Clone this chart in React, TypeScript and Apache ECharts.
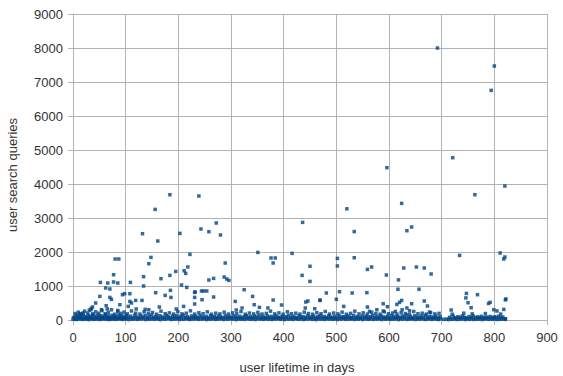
import React, { useEffect, useRef } from "react";
import * as echarts from "echarts";

// x: user lifetime in days, y: user search queries
const xTicks = [0, 100, 200, 300, 400, 500, 600, 700, 800, 900];
const yTicks = [0, 1000, 2000, 3000, 4000, 5000, 6000, 7000, 8000, 9000];

const outliersLate: [number, number][] = [
  [692, 8000], [800, 7470], [794, 6753], [721, 4774], [596, 4480], [820, 3941], [763, 3685],
  [734, 1900], [811, 1970], [820, 1853], [818, 1794], [747, 782], [768, 744], [746, 650],
  [822, 620], [821, 592], [750, 509], [792, 518], [789, 485], [756, 362], [799, 303], [805, 265],
  [718, 294], [818, 312], [821, 40],
];

const outliersMid: [number, number][] = [
  [520, 3270], [624, 3430], [534, 2600], [634, 2626], [643, 2735], [502, 1812], [502, 1590],
  [534, 1832], [559, 1488], [567, 1559], [595, 1323], [628, 1529], [652, 1559], [667, 1529],
  [680, 1353], [618, 1180], [617, 905], [657, 905], [469, 588], [481, 794], [506, 832], [530, 794],
  [558, 803], [500, 610], [514, 400], [589, 479], [597, 391], [559, 382], [563, 253], [577, 303],
  [624, 576], [620, 518], [615, 459], [643, 479], [634, 353], [667, 559], [673, 412], [677, 235],
  [612, 253], [589, 265], [625, 303], [639, 274],
];

const outliersEarlyMid: [number, number][] = [
  [239, 3647], [272, 2853], [243, 2676], [258, 2597], [280, 2500], [436, 2871], [351, 1988],
  [376, 1824], [384, 1824], [380, 1676], [416, 1959], [450, 1580], [289, 1676], [435, 1312],
  [450, 1135], [258, 1176], [267, 1224], [287, 1265], [292, 1206], [296, 1165], [244, 853],
  [248, 853], [254, 853], [231, 812], [231, 665], [245, 597], [267, 676], [325, 891], [341, 694],
  [308, 547], [344, 450], [380, 588], [396, 441], [354, 371], [370, 353], [442, 529], [446, 559],
  [469, 576], [441, 353], [459, 332], [321, 353], [310, 294],
];

const outliersEarly: [number, number][] = [
  [184, 3685], [156, 3253], [132, 2538], [161, 2323], [203, 2547], [222, 1929], [80, 1794],
  [87, 1794], [148, 1841], [144, 1656], [77, 1332], [52, 1106], [66, 1088], [77, 1118], [85, 1088],
  [134, 1274], [109, 1106], [167, 1215], [184, 1312], [195, 1429], [211, 1450], [214, 1371],
  [218, 1559], [134, 1000], [206, 1029], [216, 959], [62, 941], [70, 912], [157, 803], [185, 871],
  [175, 724], [186, 665], [232, 824], [231, 471], [94, 744], [98, 774], [108, 774], [51, 694],
  [70, 665], [73, 606], [43, 500], [89, 450], [108, 547], [119, 576], [111, 500], [131, 576],
  [105, 400], [37, 382], [63, 421], [54, 303], [34, 303], [65, 324], [85, 282], [120, 324],
  [137, 312], [144, 303], [164, 382], [196, 324], [210, 400], [13, 185], [19, 206], [35, 341],
];

const bandLow: [number, number][] = [
  [0, 22], [3, 41], [6, 15], [9, 35], [12, 28], [15, 46], [18, 18], [21, 38], [24, 25], [27, 44],
  [30, 12], [33, 33], [36, 48], [39, 20], [42, 37], [45, 27], [48, 45], [51, 16], [54, 39], [57, 30],
  [60, 50], [63, 21], [66, 42], [69, 14], [72, 36], [75, 26], [78, 47], [81, 19], [84, 40], [87, 31],
  [90, 52], [93, 17], [96, 38], [99, 28], [102, 45], [106, 13], [110, 34], [114, 24], [118, 43],
  [122, 18], [126, 37], [130, 29], [134, 46], [138, 15], [142, 35], [146, 25], [150, 44], [154, 20],
  [158, 39], [162, 30], [166, 12], [170, 41], [174, 23], [178, 36], [182, 47], [186, 17], [190, 32],
  [194, 27], [198, 43], [202, 14], [206, 38], [210, 22], [214, 45], [218, 31], [222, 16], [226, 40],
  [230, 26], [234, 48], [238, 19], [242, 35], [246, 28], [250, 42], [254, 13], [258, 37], [262, 24],
  [266, 46], [270, 18], [274, 33], [278, 29], [282, 44], [286, 15], [290, 39], [294, 21], [298, 47],
  [302, 27], [306, 36], [310, 12], [314, 41], [318, 25], [322, 34], [326, 18], [330, 45], [334, 30],
  [338, 22], [342, 39], [346, 14], [350, 43], [354, 28], [358, 36], [362, 19], [366, 47], [370, 24],
  [374, 33], [378, 16], [382, 40], [386, 29], [390, 45], [394, 21], [398, 35], [402, 13], [406, 42],
  [410, 26], [414, 38], [418, 18], [422, 46], [426, 31], [430, 23], [434, 40], [438, 15], [442, 36],
  [446, 27], [450, 44], [454, 20], [458, 33], [462, 12], [466, 41], [470, 25], [474, 37], [478, 17],
  [482, 45], [486, 29], [490, 34], [494, 22], [498, 43], [502, 14], [506, 38], [510, 26], [514, 47],
  [518, 19], [522, 32], [526, 28], [530, 42], [534, 16], [538, 36], [542, 24], [546, 45], [550, 13],
  [554, 39], [558, 30], [562, 21], [566, 44], [570, 17], [574, 35], [578, 27], [582, 41], [586, 15],
  [590, 38], [594, 23], [598, 46], [602, 19], [606, 33], [610, 28], [614, 42], [618, 12], [622, 37],
  [626, 25], [630, 44], [634, 18], [638, 34], [642, 30], [646, 40], [650, 14], [654, 36], [658, 22],
  [662, 45], [666, 27], [670, 16], [674, 39], [678, 31], [682, 20], [686, 43], [690, 24], [694, 15],
  [698, 35], [704, 18], [709, 28], [713, 12], [717, 33], [721, 22], [725, 40], [729, 16], [733, 30],
  [737, 25], [741, 38], [745, 14], [749, 34], [753, 21], [757, 42], [761, 17], [765, 31], [769, 26],
  [773, 36], [777, 13], [781, 29], [785, 39], [789, 19], [793, 33], [797, 24], [801, 37], [805, 15],
  [809, 28], [813, 21], [817, 35], [821, 18],
];

const bandMid: [number, number][] = [
  [1, 75], [5, 110], [8, 140], [11, 88], [14, 125], [17, 65], [20, 150], [23, 98], [26, 72], [29, 135],
  [32, 105], [35, 82], [38, 160], [41, 118], [44, 68], [47, 142], [50, 92], [53, 128], [56, 76],
  [59, 110], [62, 155], [65, 85], [68, 120], [71, 66], [74, 138], [77, 96], [80, 112], [83, 70],
  [86, 148], [89, 88], [92, 124], [95, 64], [98, 104], [101, 132], [105, 80], [109, 115], [113, 70],
  [117, 140], [121, 92], [125, 62], [129, 118], [133, 85], [137, 130], [141, 72], [145, 100],
  [149, 145], [153, 78], [157, 110], [161, 66], [165, 125], [169, 90], [173, 70], [177, 135],
  [181, 98], [185, 64], [189, 115], [193, 82], [197, 128], [201, 72], [205, 105], [209, 140],
  [213, 78], [217, 95], [221, 62], [225, 120], [229, 86], [233, 112], [237, 68], [241, 132],
  [245, 90], [249, 74], [253, 108], [257, 64], [261, 125], [265, 84], [269, 100], [273, 70],
  [277, 118], [281, 88], [285, 62], [289, 130], [293, 80], [297, 104], [301, 66], [305, 122],
  [309, 92], [313, 74], [317, 110], [321, 64], [325, 96], [329, 128], [333, 78], [337, 102],
  [341, 68], [345, 115], [349, 86], [353, 140], [357, 72], [361, 98], [365, 64], [369, 118],
  [373, 84], [377, 106], [381, 70], [385, 125], [389, 90], [393, 66], [397, 112], [401, 78],
  [405, 96], [409, 135], [413, 70], [417, 104], [421, 86], [425, 62], [429, 120], [433, 82],
  [437, 100], [441, 68], [445, 128], [449, 90], [453, 74], [457, 110], [461, 64], [465, 98],
  [469, 132], [473, 78], [477, 104], [481, 66], [485, 118], [489, 88], [493, 72], [497, 108],
  [501, 62], [505, 125], [509, 84], [513, 100], [517, 70], [521, 115], [525, 90], [529, 66],
  [533, 138], [537, 80], [541, 102], [545, 64], [549, 120], [553, 86], [557, 110], [561, 72],
  [565, 96], [569, 140], [573, 76], [577, 104], [581, 66], [585, 122], [589, 88], [593, 74],
  [597, 112], [601, 62], [605, 130], [609, 92], [613, 78], [617, 106], [621, 68], [625, 118],
  [629, 86], [633, 145], [637, 74], [641, 100], [645, 64], [649, 126], [653, 90], [657, 70],
  [661, 112], [665, 82], [669, 134], [673, 66], [677, 104], [681, 88], [685, 72], [689, 116],
  [693, 64], [697, 96], [715, 80], [722, 110], [727, 66], [731, 95], [735, 72], [739, 120],
  [743, 84], [747, 64], [752, 100], [756, 76], [760, 118], [764, 68], [768, 92], [772, 80],
  [776, 108], [780, 64], [784, 88], [788, 74], [792, 104], [796, 66], [800, 96], [804, 78],
  [808, 112], [812, 70], [816, 88],
];

const bandHigh: [number, number][] = [
  [4, 190], [10, 230], [16, 175], [22, 260], [28, 205], [31, 290], [37, 180], [43, 240], [49, 200],
  [55, 275], [61, 185], [67, 220], [73, 300], [79, 170], [85, 250], [91, 195], [97, 230], [103, 180],
  [111, 265], [119, 200], [127, 175], [135, 240], [143, 190], [151, 220], [159, 170], [167, 260],
  [175, 185], [183, 210], [191, 175], [199, 245], [207, 180], [215, 200], [223, 270], [231, 175],
  [239, 215], [247, 185], [255, 240], [263, 170], [271, 200], [279, 180], [287, 230], [295, 175],
  [303, 210], [311, 185], [319, 250], [327, 170], [335, 205], [343, 180], [351, 225], [359, 175],
  [367, 195], [375, 260], [383, 180], [391, 210], [399, 170], [407, 240], [415, 185], [423, 200],
  [431, 175], [439, 230], [447, 190], [455, 170], [463, 215], [471, 185], [479, 250], [487, 175],
  [495, 205], [503, 180], [511, 230], [519, 170], [527, 195], [535, 260], [543, 180], [551, 210],
  [559, 175], [567, 230], [575, 190], [583, 170], [591, 240], [599, 185], [607, 205], [615, 175],
  [623, 220], [631, 190], [639, 170], [647, 250], [655, 185], [663, 200], [671, 175], [679, 215],
  [687, 180], [695, 195], [720, 170], [742, 200], [758, 180], [783, 190], [812, 175],
];

const xAxisName = "user lifetime in days";
const yAxisName = "user search queries";

const GRID = "#b3b3b3";
const TEXT = "#333333";
const MARK = "#004586";

export default function App() {
  const ref = useRef<HTMLDivElement>(null);
  useEffect(() => {
    if (!ref.current) return;
    const chart = echarts.init(ref.current, null, { renderer: "svg" });
    const allData = [
      ...bandLow,
      ...bandMid,
      ...bandHigh,
      ...outliersEarly,
      ...outliersEarlyMid,
      ...outliersMid,
      ...outliersLate,
    ];
    const plain = (v: number) => String(v);
    chart.setOption({
      animation: false,
      grid: { left: 73, right: 16, top: 14, bottom: 56, containLabel: false },
      xAxis: {
        type: "value",
        min: xTicks[0],
        max: xTicks[xTicks.length - 1],
        interval: 100,
        axisLine: { show: true, onZero: false, lineStyle: { color: GRID, width: 1 } },
        axisTick: { show: true, length: 5, lineStyle: { color: GRID } },
        splitLine: { show: true, lineStyle: { color: GRID, width: 1 } },
        axisLabel: { color: TEXT, fontSize: 13, fontFamily: "Liberation Sans", margin: 11, formatter: plain },
      },
      yAxis: {
        type: "value",
        min: yTicks[0],
        max: yTicks[yTicks.length - 1],
        interval: 1000,
        axisLine: { show: true, onZero: false, lineStyle: { color: GRID, width: 1 } },
        axisTick: { show: true, length: 5, lineStyle: { color: GRID } },
        splitLine: { show: true, lineStyle: { color: GRID, width: 1 } },
        axisLabel: { color: TEXT, fontSize: 13, fontFamily: "Liberation Sans", margin: 10, formatter: plain },
      },
      graphic: [
        {
          type: "text",
          x: 297,
          y: 367,
          style: {
            text: xAxisName,
            fill: TEXT,
            font: "13px 'Liberation Sans'",
            textAlign: "center",
            textVerticalAlign: "middle",
          },
        },
        {
          type: "text",
          x: 12,
          y: 175,
          rotation: Math.PI / 2,
          style: {
            text: yAxisName,
            fill: TEXT,
            font: "13px 'Liberation Sans'",
            textAlign: "center",
            textVerticalAlign: "middle",
          },
        },
      ],
      series: [
        {
          type: "scatter",
          data: allData,
          symbol: "rect",
          symbolSize: 3.5,
          itemStyle: { color: MARK },
          clip: false,
        },
      ],
    });
    return () => chart.dispose();
  }, []);
  return (
    <div
      ref={ref}
      style={{ position: "fixed", left: 0, top: 0, width: 563, height: 376, background: "#ffffff" }}
    />
  );
}
